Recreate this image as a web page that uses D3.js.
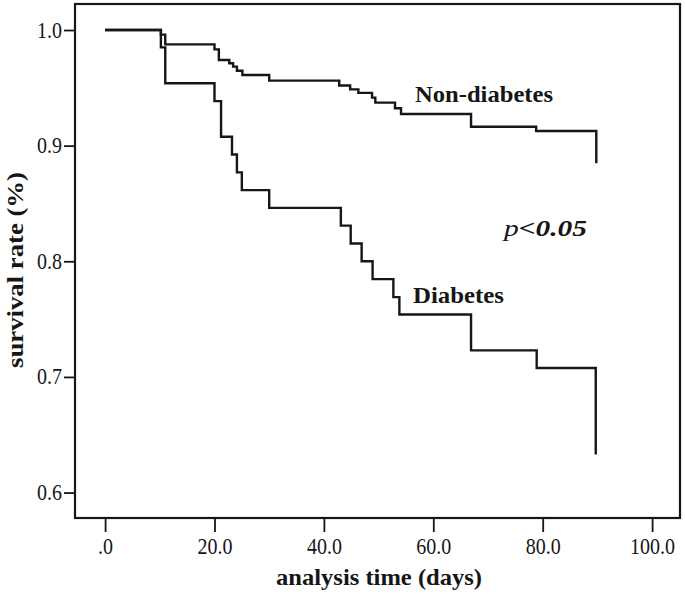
<!DOCTYPE html>
<html><head><meta charset="utf-8">
<script src="https://cdn.jsdelivr.net/npm/d3@7"></script>
<style>html,body{margin:0;padding:0;background:#fff;}svg{display:block;}</style>
</head><body>
<svg id="chart" width="685" height="596"></svg>
<script>
// Kaplan-Meier step data: [day, survival]
const nonDiabetesTime =   [0, 10.2, 11.0, 20.0, 20.8, 22.7, 23.4, 24.1, 25.1, 30.0, 42.8, 44.8, 46.3, 48.8, 49.4, 53.0, 54.1, 66.9, 78.8, 89.8];
const nonDiabetesSurv =   [1, 0.996, 0.9876, 0.9833, 0.9741, 0.9712, 0.9683, 0.9648, 0.9611, 0.9562, 0.952, 0.9487, 0.9456, 0.9415, 0.9372, 0.9323, 0.9274, 0.9164, 0.9127, 0.8848];
const diabetesTime = [0, 10.2, 11.0, 20.0, 21.2, 23.2, 24.1, 25.0, 30.0, 43.1, 44.9, 46.9, 48.9, 52.7, 53.8, 66.9, 78.9, 89.7];
const diabetesSurv = [1, 0.985, 0.954, 0.9385, 0.9077, 0.8923, 0.8769, 0.8615, 0.8462, 0.8308, 0.8154, 0.8, 0.7846, 0.769, 0.754, 0.723, 0.7077, 0.633];
const xTicks = [0, 20, 40, 60, 80, 100];
const xTickLabels = [".0", "20.0", "40.0", "60.0", "80.0", "100.0"];
const yTicks = [0.6, 0.7, 0.8, 0.9, 1.0];
const yTickLabels = ["0.6", "0.7", "0.8", "0.9", "1.0"];

const svg = d3.select("#chart");
const L = 75, R = 680, T = 4, B = 518;
const x = d3.scaleLinear().domain([-5.5, 105.1]).range([L, R]);
const y = d3.scaleLinear().domain([0.578, 1.0225]).range([B, T]);
const font = "'Liberation Serif', 'Times New Roman', serif";
const ink = "#161616";
const SY = 1.14; // vertical stretch of the lettering

// frame
svg.append("rect").attr("x", L).attr("y", T).attr("width", R - L).attr("height", B - T)
  .attr("fill", "none").attr("stroke", ink).attr("stroke-width", 2.2);

// x axis
const xAxis = d3.axisBottom(x).tickValues(xTicks).tickSize(13).tickPadding(0)
  .tickFormat((d, i) => xTickLabels[i]);
const gx = svg.append("g").attr("transform", `translate(0,${B + 1})`).call(xAxis);
gx.select(".domain").remove();
gx.selectAll(".tick line").attr("stroke", ink).attr("stroke-width", 1.8);
gx.selectAll(".tick text").attr("font-family", font).attr("font-size", 20).attr("fill", ink)
  .attr("y", 0).attr("dy", 0)
  .attr("transform", `translate(0,35) scale(1,${SY})`);

// y axis
const yAxis = d3.axisLeft(y).tickValues(yTicks).tickSize(11).tickPadding(2)
  .tickFormat((d, i) => yTickLabels[i]);
const gy = svg.append("g").attr("transform", `translate(${L},0)`).call(yAxis);
gy.select(".domain").remove();
gy.selectAll(".tick line").attr("stroke", ink).attr("stroke-width", 1.8);
gy.selectAll(".tick text").attr("font-family", font).attr("font-size", 20).attr("fill", ink)
  .attr("dy", 0).attr("transform", `translate(0,7) scale(1,${SY})`);

// curves
const line = d3.line().x(d => x(d[0])).y(d => y(d[1])).curve(d3.curveStepAfter);
const nonDiab = nonDiabetesTime.map((t, i) => [t, nonDiabetesSurv[i]]);
const diab = diabetesTime.map((t, i) => [t, diabetesSurv[i]]);
[nonDiab, diab].forEach(data => {
  svg.append("path").datum(data).attr("d", line)
    .attr("fill", "none").attr("stroke", ink).attr("stroke-width", 2.4)
    .attr("stroke-linejoin", "miter");
});

function label(tx, ty, len, txt, size, rot) {
  const g = svg.append("g").attr("transform", `translate(${tx},${ty})` + (rot ? ` rotate(${rot})` : "") + ` scale(1,${SY})`);
  return g.append("text").attr("x", 0).attr("y", 0).attr("font-family", font)
    .attr("font-weight", "bold").attr("font-size", size).attr("fill", ink)
    .attr("textLength", len).attr("lengthAdjust", "spacingAndGlyphs").text(txt);
}

// labels
label(415, 102, 138, "Non-diabetes", 20);
label(413, 303, 91, "Diabetes", 20);
const pg = svg.append("g").attr("transform", `translate(504,236) scale(1,${SY})`);
const p = pg.append("text").attr("x", 0).attr("y", 0).attr("font-family", font)
  .attr("font-size", 20).attr("fill", ink).attr("font-style", "italic")
  .attr("textLength", 83).attr("lengthAdjust", "spacingAndGlyphs");
p.append("tspan").text("p");
p.append("tspan").attr("font-weight", "bold").text("<0.05");

// axis titles
label(379, 585, 206, "analysis time (days)", 20).attr("text-anchor", "middle");
label(23, 270, 196, "survival rate (%)", 20, -90).attr("text-anchor", "middle");
</script>
</body></html>
